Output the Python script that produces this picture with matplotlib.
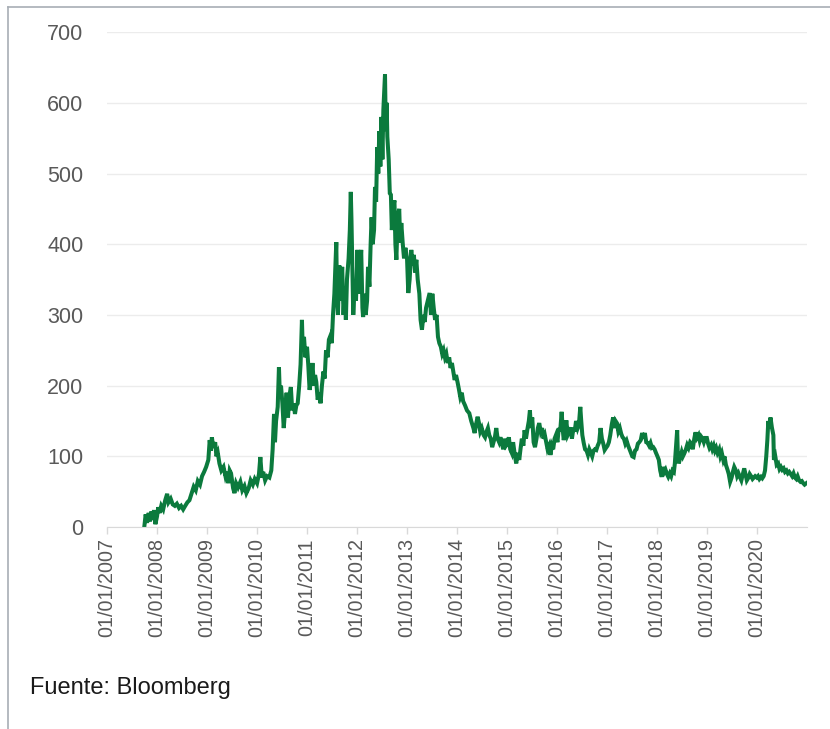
import pandas as pd
import matplotlib.pyplot as plt
from matplotlib.lines import Line2D

# prima de riesgo (pb), leida a ojo del grafico
fechas = [
    '2007-10-01', '2007-10-10', '2007-10-20', '2007-11-01', '2007-11-10', '2007-11-20', '2007-12-01', '2007-12-10', '2007-12-20',
    '2008-01-01', '2008-01-10', '2008-01-20', '2008-02-01', '2008-02-15', '2008-03-01', '2008-03-15', '2008-03-25', '2008-04-10', '2008-04-25',
    '2008-05-10', '2008-05-25', '2008-06-10', '2008-06-25', '2008-07-10', '2008-07-25', '2008-08-10', '2008-08-25', '2008-09-10', '2008-09-25',
    '2008-10-10', '2008-10-25', '2008-11-10', '2008-11-25', '2008-12-10', '2008-12-25',
    '2009-01-10', '2009-01-20', '2009-01-28', '2009-02-05', '2009-02-15', '2009-03-01', '2009-03-10', '2009-03-20', '2009-04-01', '2009-04-15',
    '2009-05-01', '2009-05-15', '2009-05-25', '2009-06-05', '2009-06-15', '2009-06-25', '2009-07-10', '2009-07-20', '2009-08-01', '2009-08-15',
    '2009-09-01', '2009-09-15', '2009-10-01', '2009-10-15', '2009-11-01', '2009-11-15', '2009-12-01', '2009-12-15',
    '2010-01-01', '2010-01-15', '2010-01-25', '2010-02-05', '2010-02-15', '2010-03-01', '2010-03-15', '2010-04-01', '2010-04-15', '2010-04-25',
    '2010-05-05', '2010-05-12', '2010-05-20', '2010-06-01', '2010-06-10', '2010-06-16', '2010-06-25', '2010-07-05', '2010-07-15', '2010-07-25',
    '2010-08-05', '2010-08-15', '2010-08-25', '2010-09-05', '2010-09-15', '2010-09-25', '2010-10-05', '2010-10-15', '2010-10-25', '2010-11-05',
    '2010-11-15', '2010-11-25', '2010-12-01', '2010-12-10', '2010-12-20',
    '2011-01-01', '2011-01-10', '2011-01-20', '2011-02-01', '2011-02-10', '2011-02-20', '2011-03-01', '2011-03-10', '2011-03-20', '2011-04-01',
    '2011-04-10', '2011-04-20', '2011-05-01', '2011-05-10', '2011-05-20', '2011-06-01', '2011-06-10', '2011-06-20', '2011-07-01', '2011-07-10',
    '2011-07-20', '2011-07-28', '2011-08-03', '2011-08-08', '2011-08-15', '2011-08-25', '2011-09-05', '2011-09-15', '2011-09-25', '2011-10-05',
    '2011-10-12', '2011-10-20', '2011-11-01', '2011-11-10', '2011-11-17', '2011-11-22', '2011-11-30', '2011-12-05', '2011-12-15', '2011-12-25',
    '2012-01-05', '2012-01-10', '2012-01-20', '2012-02-01', '2012-02-10', '2012-02-15', '2012-02-25', '2012-03-05', '2012-03-15', '2012-03-22',
    '2012-04-01', '2012-04-10', '2012-04-17', '2012-04-25', '2012-05-05', '2012-05-12', '2012-05-20', '2012-05-28', '2012-06-05', '2012-06-12',
    '2012-06-20', '2012-06-28', '2012-07-05', '2012-07-12', '2012-07-24', '2012-07-30', '2012-08-05', '2012-08-10', '2012-08-20', '2012-08-28',
    '2012-09-05', '2012-09-12', '2012-09-20', '2012-10-01', '2012-10-08', '2012-10-15', '2012-10-25', '2012-11-05', '2012-11-12', '2012-11-20',
    '2012-12-01', '2012-12-10', '2012-12-20',
    '2013-01-01', '2013-01-10', '2013-01-20', '2013-02-01', '2013-02-10', '2013-02-20', '2013-03-01', '2013-03-10', '2013-03-20', '2013-04-01',
    '2013-04-10', '2013-04-20', '2013-05-01', '2013-05-10', '2013-05-20', '2013-06-01', '2013-06-15', '2013-06-25', '2013-07-05', '2013-07-15',
    '2013-07-25', '2013-08-05', '2013-08-15', '2013-08-25', '2013-09-05', '2013-09-15', '2013-09-25', '2013-10-05', '2013-10-15', '2013-10-25',
    '2013-11-05', '2013-11-15', '2013-11-25', '2013-12-05', '2013-12-15', '2013-12-25',
    '2014-01-05', '2014-01-15', '2014-01-25', '2014-02-05', '2014-02-15', '2014-03-01', '2014-03-15', '2014-04-01', '2014-04-15', '2014-05-01',
    '2014-05-10', '2014-05-20', '2014-06-01', '2014-06-10', '2014-06-20', '2014-07-01', '2014-07-15', '2014-07-25', '2014-08-05', '2014-08-15',
    '2014-08-25', '2014-09-05', '2014-09-15', '2014-09-25', '2014-10-05', '2014-10-15', '2014-10-25', '2014-11-05', '2014-11-15', '2014-11-25',
    '2014-12-05', '2014-12-15', '2014-12-25',
    '2015-01-05', '2015-01-15', '2015-01-25', '2015-02-05', '2015-02-15', '2015-03-01', '2015-03-10', '2015-03-20', '2015-04-01', '2015-04-10',
    '2015-04-20', '2015-05-01', '2015-05-10', '2015-05-20', '2015-06-01', '2015-06-10', '2015-06-18', '2015-06-25', '2015-07-05', '2015-07-15',
    '2015-07-25', '2015-08-05', '2015-08-15', '2015-08-25', '2015-09-05', '2015-09-15', '2015-09-25', '2015-10-05', '2015-10-15', '2015-10-25',
    '2015-11-05', '2015-11-15', '2015-11-25', '2015-12-05', '2015-12-15', '2015-12-25',
    '2016-01-05', '2016-01-15', '2016-01-25', '2016-02-05', '2016-02-12', '2016-02-20', '2016-03-01', '2016-03-10', '2016-03-20', '2016-04-01',
    '2016-04-10', '2016-04-20', '2016-05-01', '2016-05-10', '2016-05-20', '2016-06-01', '2016-06-10', '2016-06-20', '2016-06-27', '2016-07-05',
    '2016-07-15', '2016-07-25', '2016-08-05', '2016-08-15', '2016-08-25', '2016-09-05', '2016-09-15', '2016-09-25', '2016-10-05', '2016-10-15',
    '2016-10-25', '2016-11-05', '2016-11-15', '2016-11-25', '2016-12-05', '2016-12-15', '2016-12-25',
    '2017-01-05', '2017-01-15', '2017-01-25', '2017-02-05', '2017-02-15', '2017-02-25', '2017-03-05', '2017-03-15', '2017-03-25', '2017-04-05',
    '2017-04-15', '2017-04-25', '2017-05-05', '2017-05-15', '2017-05-25', '2017-06-05', '2017-06-15', '2017-06-25', '2017-07-05', '2017-07-15',
    '2017-07-25', '2017-08-05', '2017-08-15', '2017-08-25', '2017-09-05', '2017-09-15', '2017-09-25', '2017-10-05', '2017-10-15', '2017-10-25',
    '2017-11-05', '2017-11-15', '2017-11-25', '2017-12-05', '2017-12-15', '2017-12-25',
    '2018-01-05', '2018-01-15', '2018-01-25', '2018-02-05', '2018-02-15', '2018-02-25', '2018-03-05', '2018-03-15', '2018-03-25', '2018-04-05',
    '2018-04-15', '2018-04-25', '2018-05-05', '2018-05-12', '2018-05-29', '2018-06-03', '2018-06-10', '2018-06-20', '2018-07-01', '2018-07-10',
    '2018-07-20', '2018-08-01', '2018-08-10', '2018-08-20', '2018-09-01', '2018-09-10', '2018-09-20', '2018-10-01', '2018-10-10', '2018-10-20',
    '2018-11-01', '2018-11-10', '2018-11-20', '2018-12-01', '2018-12-10', '2018-12-20',
    '2019-01-01', '2019-01-10', '2019-01-20', '2019-02-01', '2019-02-10', '2019-02-20', '2019-03-01', '2019-03-10', '2019-03-20', '2019-04-01',
    '2019-04-10', '2019-04-20', '2019-05-01', '2019-05-10', '2019-05-20', '2019-06-01', '2019-06-10', '2019-06-20', '2019-07-01', '2019-07-10',
    '2019-07-20', '2019-08-01', '2019-08-10', '2019-08-20', '2019-09-01', '2019-09-10', '2019-09-20', '2019-10-01', '2019-10-10', '2019-10-20',
    '2019-11-01', '2019-11-10', '2019-11-20', '2019-12-01', '2019-12-10', '2019-12-20',
    '2020-01-01', '2020-01-10', '2020-01-20', '2020-02-01', '2020-02-10', '2020-02-20', '2020-03-01', '2020-03-10', '2020-03-18', '2020-03-25',
    '2020-04-01', '2020-04-10', '2020-04-20', '2020-05-01', '2020-05-05', '2020-05-15', '2020-05-25', '2020-06-05', '2020-06-15', '2020-06-25',
    '2020-07-05', '2020-07-15', '2020-07-25', '2020-08-05', '2020-08-15', '2020-08-25', '2020-09-05', '2020-09-15', '2020-09-25', '2020-10-05',
    '2020-10-15', '2020-10-25', '2020-11-05', '2020-11-15', '2020-11-25', '2020-12-05', '2020-12-15', '2020-12-28',
]
prima = [
    2, 18, 6, 20, 8, 22, 10, 24, 4,
    15, 28, 20, 30, 25, 38, 47, 35, 40, 32,
    30, 33, 27, 30, 25, 30, 35, 38, 48, 57,
    52, 65, 60, 72, 78, 85,
    95, 123, 108, 127, 112, 120, 100, 105, 90, 80,
    85, 72, 78, 62, 80, 76, 55, 48, 62, 56,
    64, 52, 58, 48, 55, 66, 60, 68,
    62, 75, 99, 70, 78, 66, 72, 70, 80, 110,
    160, 120, 150, 170, 226, 190, 200, 175, 140, 165,
    190, 155, 185, 198, 165, 175, 160, 172, 175, 200,
    230, 293, 250, 269, 240,
    255, 230, 194, 210, 232, 200, 215, 205, 180, 190,
    175, 200, 220, 210, 250, 240, 265, 270, 260, 300,
    330, 373, 403, 330, 300, 370, 320, 368, 300, 340,
    293, 350, 380, 420, 474, 434, 350, 300, 340, 320,
    392, 330, 350, 392, 310, 297, 330, 300, 320, 368,
    340, 400, 438, 400, 420, 481, 460, 537, 500, 560,
    510, 580, 520, 590, 640, 560, 600, 552, 520, 472,
    470, 420, 450, 462, 400, 378, 440, 450, 402, 430,
    400, 380, 395,
    380, 331, 350, 392, 370, 385, 360, 378, 350, 330,
    293, 279, 300, 290, 310, 320, 331, 300, 330, 310,
    293, 300, 269, 260, 255, 245, 250, 240, 245, 232,
    240, 225, 232, 220, 208, 215,
    205, 195, 184, 190, 178, 172, 165, 161, 150, 140,
    133, 145, 156, 148, 135, 140, 130, 127, 135, 140,
    130, 125, 113, 120, 127, 140, 125, 120, 127, 118,
    110, 125, 115,
    118, 127, 110, 105, 120, 100, 90, 105, 95, 110,
    125, 115, 137, 125, 140, 150, 165, 140, 155, 120,
    113, 125, 140, 147, 135, 140, 125, 130, 120, 110,
    115, 102, 115, 110, 125, 130,
    120, 140, 135, 163, 140, 123, 135, 151, 130, 135,
    141, 125, 140, 135, 150, 140, 145, 170, 150, 130,
    119, 110, 108, 102, 110, 105, 100, 108, 110, 109,
    115, 120, 140, 125, 118, 109, 112,
    115, 120, 130, 145, 155, 140, 150, 147, 135, 140,
    132, 127, 125, 118, 122, 115, 110, 105, 100, 99,
    108, 110, 118, 120, 123, 133, 125, 133, 120, 119,
    115, 119, 112, 113, 110, 105,
    100, 95, 80, 71, 85, 78, 81, 75, 71, 76,
    72, 80, 78, 90, 137, 100, 90, 98, 106, 100,
    104, 110, 116, 112, 120, 118, 110, 125, 134, 126,
    130, 122, 128, 125, 120, 126,
    126, 118, 112, 116, 110, 115, 108, 112, 105, 110,
    100, 105, 95, 100, 88, 81, 75, 64, 70, 78,
    85, 80, 72, 76, 70, 66, 74, 83, 75, 66,
    70, 75, 72, 68, 70, 72,
    70, 72, 68, 71, 69, 72, 80, 100, 123, 150,
    140, 155, 141, 130, 95, 100, 88, 90, 82, 85,
    81, 83, 78, 80, 76, 78, 75, 72, 76, 70,
    68, 72, 66, 64, 65, 62, 60, 62,
]
ticks_anio = [str(a) for a in range(2007, 2021)]
ticks_y = [0, 100, 200, 300, 400, 500, 600, 700]

plt.rcParams['font.family'] = ['Liberation Sans', 'DejaVu Sans']

fig = plt.figure(figsize=(8.30, 7.29), dpi=100)
ax = fig.add_axes([0.129, 0.277, 0.843, 0.679])

x = pd.to_datetime(fechas)
ax.plot(x, prima, color='#0b7a3d', linewidth=2.9, solid_joinstyle='miter')

ax.set_ylim(0, 700)
ax.set_yticks(ticks_y)
ax.set_xlim(pd.Timestamp('2007-01-01'), pd.Timestamp('2020-12-31'))
xt = pd.to_datetime([a + '-01-01' for a in ticks_anio])
ax.set_xticks(xt)
ax.set_xticklabels(['01/01/' + a for a in ticks_anio], rotation=90)

ax.grid(axis='y', color='#ececec', linewidth=1)
ax.set_axisbelow(True)
for s in ['top', 'right', 'left']:
    ax.spines[s].set_visible(False)
ax.spines['bottom'].set_color('#d9d9d9')
ax.tick_params(axis='y', length=0, pad=17, labelsize=15.5, labelcolor='#595959')
ax.tick_params(axis='x', length=5, width=1, color='#d9d9d9', pad=3, labelsize=14.2, labelcolor='#595959')

fig.text(0.036, 0.048, 'Fuente: Bloomberg', fontsize=17, color='#1a1a1a')

# marco gris del recuadro
fig.add_artist(Line2D([0.0096, 0.0096], [0, 0.991], color='#a8aeb5', linewidth=1.2))
fig.add_artist(Line2D([0.0096, 1.0], [0.991, 0.991], color='#a8aeb5', linewidth=1.2))

fig.savefig('out.png', dpi=100)
